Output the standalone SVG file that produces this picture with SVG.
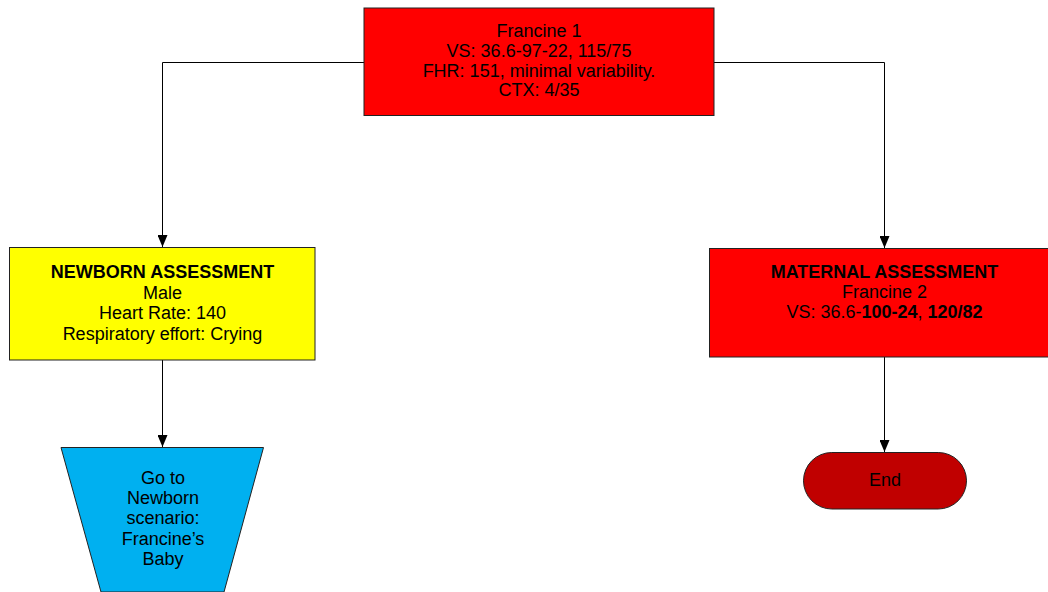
<svg xmlns="http://www.w3.org/2000/svg" width="1048" height="592" viewBox="0 0 1048 592">
  <style>
    text { font-family: "Liberation Sans", Arial, sans-serif; font-size: 18px; fill: #000; text-anchor: middle; }
    .b { font-weight: bold; }
    .box { stroke: #222; stroke-width: 1; }
    .conn { fill: none; stroke: #000; stroke-width: 1; }
  </style>
  <defs>
    <marker id="arrow" viewBox="0 0 12 10" refX="12" refY="5" markerWidth="12" markerHeight="10" markerUnits="userSpaceOnUse" orient="auto">
      <path d="M0,0 L12,5 L0,10 Z" fill="#000"/>
    </marker>
  </defs>
  <rect width="1048" height="592" fill="#fff"/>

  <g id="connectors">
    <path class="conn" d="M364,62.5 H162.5 V247" marker-end="url(#arrow)"/>
    <path class="conn" d="M714,62.5 H884.5 V248" marker-end="url(#arrow)"/>
    <path class="conn" d="M162.5,360 V447" marker-end="url(#arrow)"/>
    <path class="conn" d="M884.5,357 V452" marker-end="url(#arrow)"/>
  </g>

  <g id="francine1">
    <rect class="box" x="364" y="8" width="350" height="107.5" fill="#ff0000"/>
    <text x="539" y="37">Francine 1</text>
    <text x="539" y="56.5">VS: 36.6-97-22, 115/75</text>
    <text x="539" y="76.5">FHR: 151, minimal variability.</text>
    <text x="539" y="96">CTX: 4/35</text>
  </g>

  <g id="newborn-assessment">
    <rect class="box" x="9.5" y="247.5" width="305.5" height="112.5" fill="#ffff00"/>
    <text class="b" x="162.5" y="278">NEWBORN ASSESSMENT</text>
    <text x="162.5" y="298.5">Male</text>
    <text x="162.5" y="319">Heart Rate: 140</text>
    <text x="162.5" y="339.5">Respiratory effort: Crying</text>
  </g>

  <g id="maternal-assessment">
    <rect class="box" x="709.5" y="248.5" width="345" height="108.5" fill="#ff0000"/>
    <text class="b" x="884.5" y="278">MATERNAL ASSESSMENT</text>
    <text x="884.5" y="298">Francine 2</text>
    <text x="884.5" y="317.5">VS: 36.6-<tspan class="b">100-24</tspan>, <tspan class="b">120/82</tspan></text>
  </g>

  <g id="newborn-scenario">
    <polygon class="box" points="61,447.5 263.5,447.5 224,592 101,592" fill="#00b0f0"/>
    <text x="163" y="484">Go to</text>
    <text x="163" y="504">Newborn</text>
    <text x="163" y="524">scenario:</text>
    <text x="163" y="544.5">Francine’s</text>
    <text x="163" y="564.5">Baby</text>
  </g>

  <g id="end">
    <rect class="box" x="803.5" y="452.5" width="163" height="56.5" rx="28.25" ry="28.25" fill="#c00000"/>
    <text x="885" y="485.5">End</text>
  </g>
</svg>
